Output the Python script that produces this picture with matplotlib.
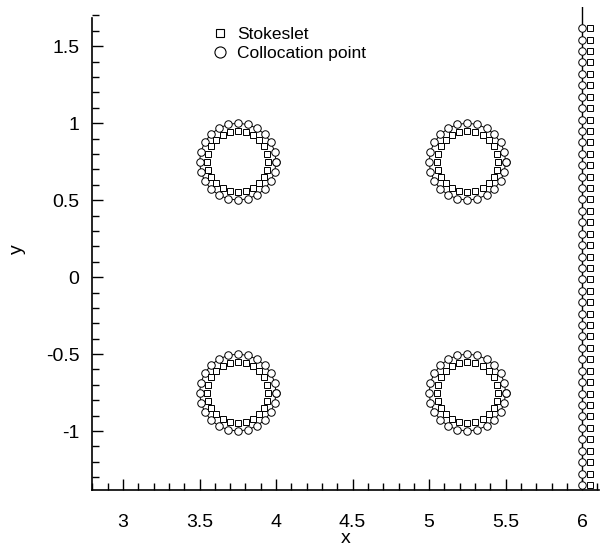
import numpy as np
import matplotlib
matplotlib.use("Agg")
from matplotlib import pyplot as plt
from matplotlib.ticker import MultipleLocator

plt.rcParams['font.family'] = ['Liberation Sans', 'DejaVu Sans']

# cylinder centres, collocation / stokeslet ring radii, points per ring
centres_x = [3.75, 5.25, 3.75, 5.25]
centres_y = [0.75, 0.75, -0.75, -0.75]
r_colloc = 0.25
r_stokes = 0.20
n_ring = 24

# wall at x = 6: collocation points on the wall, stokeslets just outside
wall_x = 6.0
wall_stokes_x = 6.05
wall_y_first = -1.35
wall_y_last = 1.617
n_wall = 41

fig = plt.figure(figsize=(6, 5.48), dpi=100)
ax = fig.add_axes([0.1533, 0.1058, 0.845, 0.881])

theta = np.deg2rad(np.arange(n_ring + 1) * 360.0 / n_ring)
for cx, cy in zip(centres_x, centres_y):
    ax.plot(cx + r_colloc * np.cos(theta), cy + r_colloc * np.sin(theta), '-o',
            color='black', lw=0.7, ms=5.4, mfc='white', mec='black', mew=0.7)
    ax.plot(cx + r_stokes * np.cos(theta[:-1]), cy + r_stokes * np.sin(theta[:-1]), 's',
            ms=3.9, mfc='white', mec='black', mew=0.7, ls='none')

wall_y = np.linspace(wall_y_first, wall_y_last, n_wall)
ax.plot([wall_x, wall_x], [-1.383, 1.753], color='black', lw=1.0, zorder=1)
ax.plot(np.full(n_wall, wall_x), wall_y, 'o', ms=5.4, mfc='white', mec='black', mew=0.7,
        clip_on=False)
ax.plot(np.full(n_wall, wall_stokes_x), wall_y, 's', ms=3.9, mfc='white', mec='black',
        mew=0.7, clip_on=False)

# legend handles
h1, = ax.plot([], [], 's', ms=6, mfc='white', mec='black', mew=0.8, label='Stokeslet')
h2, = ax.plot([], [], 'o', ms=8, mfc='white', mec='black', mew=0.8, label='Collocation point')
ax.legend(handles=[h1, h2], loc='upper left', bbox_to_anchor=(0.211, 0.981), frameon=False,
          fontsize=12.5, handletextpad=0.4, handlelength=1.2, labelspacing=0.25,
          borderaxespad=0.2)

ax.set_xlim(2.797, 6.11)
ax.set_ylim(-1.383, 1.753)
ax.spines['top'].set_visible(False)
ax.spines['right'].set_visible(False)
ax.spines['left'].set_bounds(-1.383, 1.68)
for s in ['left', 'bottom']:
    ax.spines[s].set_linewidth(1.2)

ax.set_xticks([3, 3.5, 4, 4.5, 5, 5.5, 6])
ax.set_xticklabels(['3', '3.5', '4', '4.5', '5', '5.5', '6'])
ax.xaxis.set_minor_locator(MultipleLocator(0.1))
ax.set_yticks([-1, -0.5, 0, 0.5, 1, 1.5])
ax.set_yticklabels(['-1', '-0.5', '0', '0.5', '1', '1.5'])
ax.yaxis.set_minor_locator(MultipleLocator(0.1))
ax.tick_params(which='both', direction='in', width=1.0, labelsize=14)
ax.tick_params(which='major', length=8)
ax.tick_params(which='minor', length=5)
ax.tick_params(axis='x', which='major', pad=17.5)
ax.tick_params(axis='y', which='major', pad=9)

ax.set_xlabel('x', fontsize=14, labelpad=-1)
ax.set_ylabel('y', fontsize=14, labelpad=14)

plt.savefig("out.png")
